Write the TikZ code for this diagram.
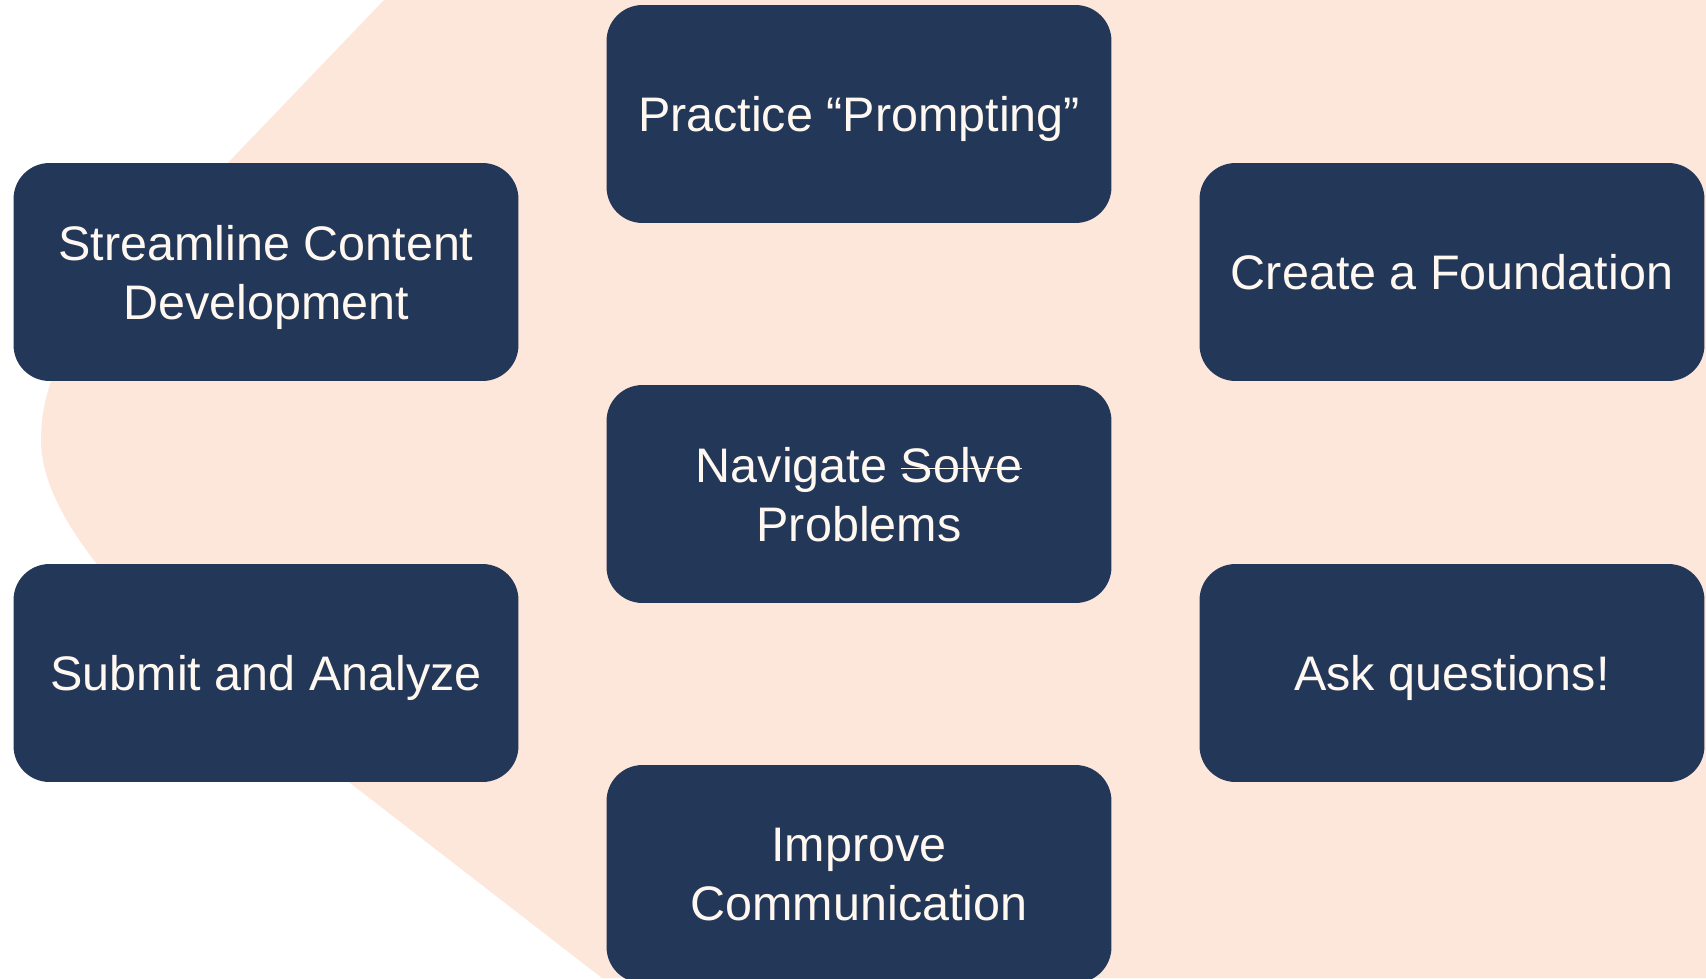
\documentclass[tikz,border=0pt]{standalone}
\usepackage{fontspec}
\setmainfont{Liberation Sans}
\definecolor{peach}{RGB}{253,231,218}
\definecolor{navy}{RGB}{35,55,88}
\definecolor{cream}{RGB}{255,248,240}
\newsavebox{\strikebox}
\newcommand{\struckword}[1]{\sbox{\strikebox}{#1}\rlap{\rule[0.26em]{\wd\strikebox}{1.1pt}}\usebox{\strikebox}}

\begin{document}
\begin{tikzpicture}[x=0.02cm,y=-0.02cm]
\tikzstyle{every node}=[shape=rectangle,rounded corners=0.72cm,fill=navy,text=cream,minimum width=10.1cm,minimum height=4.36cm,text depth=0pt,align=center,font=\fontsize{27.6}{33.6}\selectfont];
\useasboundingbox (0,0) rectangle (1706,978);
\fill[peach] (384,0) -- (130,265) .. controls (82,316) and (41,370) .. (41,440)
	.. controls (41,520) and (138,619) .. (217,680) -- (602,978) -- (1706,978) -- (1706,0) -- cycle;
\node (practice) at (859,114) {Practice “Prompting”};
\node (streamline) at (266,272) {Streamline Content\\Development};
\node (foundation) at (1452,272) {Create a Foundation};
\node (navigate) at (859,494) {Navigate \struckword{Solve}\\Problems};
\node (submit) at (266,673) {Submit and Analyze};
\node (ask) at (1452,673) {Ask questions!};
\node (improve) at (859,874) {Improve\\Communication};
\end{tikzpicture}
\end{document}
